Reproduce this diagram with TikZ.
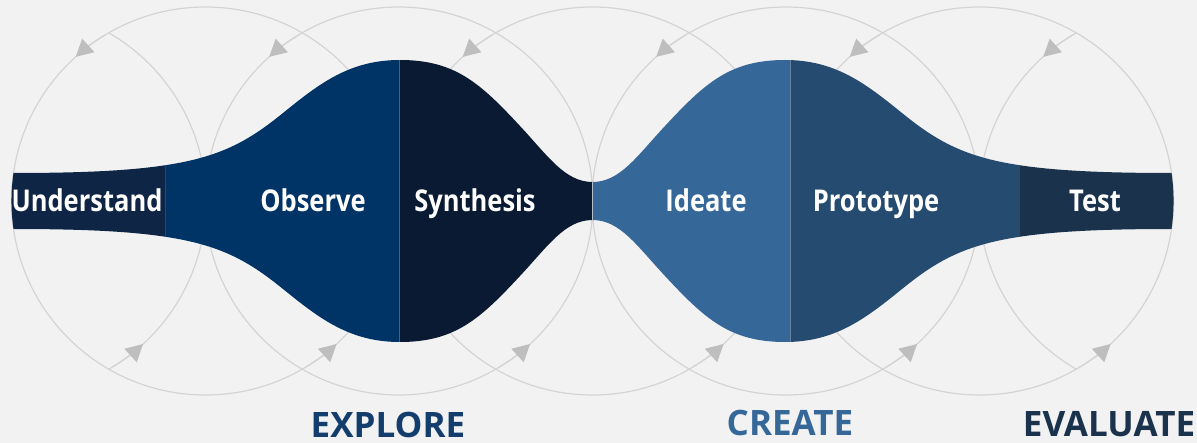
\documentclass[tikz,border=0pt]{standalone}
\usepackage{fontspec}
\setmainfont{Open Sans}
\newfontfamily\phasefont{Open Sans}[FakeStretch=0.85]
\usepackage{tikz}
\usetikzlibrary{arrows.meta, positioning}

\definecolor{bgcol}{HTML}{F2F2F2}
\definecolor{loopcol}{HTML}{D4D4D4}
\definecolor{tipcol}{HTML}{BEBEBE}
\definecolor{understandcol}{HTML}{0F2545}
\definecolor{observecol}{HTML}{003366}
\definecolor{synthesiscol}{HTML}{0A1A33}
\definecolor{ideatecol}{HTML}{356899}
\definecolor{prototypecol}{HTML}{264B70}
\definecolor{testcol}{HTML}{1B324C}
\definecolor{explorecol}{HTML}{133D6C}

\newcommand{\funnelpath}{(13.5,28) .. controls (190,28) and (228,43.5) .. (283,88)
  .. controls (320,118) and (350,141) .. (400,141)
  .. controls (455,141) and (480,118) .. (520,75)
  .. controls (548,45) and (565,19) .. (592.5,19)
  .. controls (620,19) and (637,45) .. (665,75)
  .. controls (705,118) and (730,141) .. (785,141)
  .. controls (835,141) and (865,118) .. (902,88)
  .. controls (957,43.5) and (995,28) .. (1171.5,28)
  arc[start angle=8.3, end angle=-8.3, radius=194]
  .. controls (995,-28) and (957,-43.5) .. (902,-88)
  .. controls (865,-118) and (835,-141) .. (785,-141)
  .. controls (730,-141) and (705,-118) .. (665,-75)
  .. controls (637,-45) and (620,-19) .. (592.5,-19)
  .. controls (565,-19) and (548,-45) .. (520,-75)
  .. controls (480,-118) and (455,-141) .. (400,-141)
  .. controls (350,-141) and (320,-118) .. (283,-88)
  .. controls (228,-43.5) and (190,-28) .. (13.5,-28)
  arc[start angle=188.3, end angle=171.7, radius=194] -- cycle}

\tikzset{
  loopline/.style={draw=loopcol, line width=0.6pt},
  looptip/.style={loopline, -{Triangle[length=8.5pt, width=9pt, color=tipcol]}},
  phase/.style={text=white, font=\phasefont\fontsize{15}{18}\selectfont\bfseries, anchor=base, inner sep=0pt},
  stage/.style={font=\fontsize{17.5}{21}\selectfont\bfseries, anchor=base, inner sep=0pt},
  divider/.style={draw=white, draw opacity=0.3, line width=0.5pt}
}

\begin{document}
\begin{tikzpicture}[x=0.5pt, y=0.5pt]
  \useasboundingbox (0,-242) rectangle (1197,201);
  \fill[bgcol] (0,-242) rectangle (1197,201);

  % loops
  \foreach \i in {0,...,6}
    \coordinate (c\i) at (12+193.5*\i,0);
  \foreach \i in {1,...,5}
    \draw[loopline] (c\i) circle[radius=194];
  \draw[loopline] (c0) ++(-60:194) arc[start angle=-60, end angle=60, radius=194];
  \draw[loopline] (c6) ++(120:194) arc[start angle=120, end angle=240, radius=194];
  \foreach \i in {1,...,6}
    \draw[looptip] (c\i) ++(121:194) arc[start angle=121, end angle=132, radius=194];
  \foreach \i in {0,...,5}
    \draw[looptip] (c\i) ++(-59:194) arc[start angle=-59, end angle=-47.5, radius=194];

  % funnel
  \foreach \xa/\xb/\col in {0/165/understandcol, 165/399/observecol, 399/592.5/synthesiscol,
      592.5/790/ideatecol, 790/1020/prototypecol, 1020/1197/testcol} {
    \begin{scope}
      \clip (\xa,-160) rectangle (\xb,160);
      \fill[\col] \funnelpath;
    \end{scope}
  }
  \begin{scope}
    \clip \funnelpath;
    \draw[divider, draw opacity=0.12] (165,-160) -- (165,160);
    \draw[divider] (399,-160) -- (399,160);
    \draw[divider, draw opacity=0.6] (592.5,-160) -- (592.5,160);
    \draw[divider] (790,-160) -- (790,160);
  \end{scope}

  \node[phase] (understand) at (87,-10.5) {Understand};
  \node[phase] (observe) at (313,-10.5) {Observe};
  \node[phase] (synthesis) at (475,-10.5) {Synthesis};
  \node[phase] (ideate) at (706,-10.5) {Ideate};
  \node[phase] (prototype) at (876,-10.5) {Prototype};
  \node[phase] (test) at (1095,-10.5) {Test};

  \node[stage, text=explorecol] (explore) at (388,-236.5) {EXPLORE};
  \node[stage, text=ideatecol] (create) at (790,-234) {CREATE};
  \node[stage, text=testcol] (evaluate) at (1109,-235.5) {EVALUATE};
\end{tikzpicture}
\end{document}
